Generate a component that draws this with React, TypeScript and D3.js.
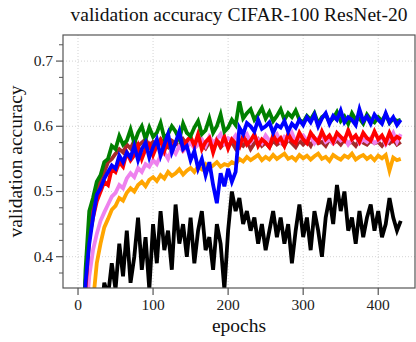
import React from "react";
import * as d3 from "d3";

const TITLE = "validation accuracy CIFAR-100 ResNet-20";
const X_LABEL = "epochs";
const Y_LABEL = "validation accuracy";
const X_TICKS = [0, 100, 200, 300, 400];
const Y_TICKS = [0.4, 0.5, 0.6, 0.7];
const EPOCHS = d3.range(0, 431, 5);

const greenVals = [
  0.01, 0.22, 0.38, 0.47, 0.49, 0.515, 0.525, 0.545, 0.55, 0.57,
  0.565, 0.585, 0.572, 0.578, 0.595, 0.574, 0.59, 0.6, 0.58, 0.598,
  0.584, 0.59, 0.605, 0.582, 0.588, 0.6, 0.592, 0.58, 0.604, 0.59,
  0.585, 0.598, 0.608, 0.588, 0.594, 0.612, 0.59, 0.6, 0.618, 0.592,
  0.598, 0.61, 0.602, 0.638, 0.612, 0.62, 0.626, 0.61, 0.618, 0.628,
  0.612, 0.622, 0.608, 0.616, 0.626, 0.61, 0.62, 0.614, 0.624, 0.61,
  0.606, 0.616, 0.61, 0.62, 0.604, 0.614, 0.618, 0.606, 0.612, 0.622,
  0.608, 0.615, 0.604, 0.62, 0.61, 0.612, 0.604, 0.618, 0.61, 0.606,
  0.614, 0.608, 0.618, 0.605, 0.612, 0.608, 0.61,
];
const blueVals = [
  0.01, 0.18, 0.36, 0.42, 0.46, 0.495, 0.505, 0.52, 0.53, 0.54,
  0.535, 0.555, 0.545, 0.56, 0.552, 0.57, 0.548, 0.565, 0.575, 0.552,
  0.568, 0.58, 0.555, 0.572, 0.588, 0.56, 0.575, 0.592, 0.565, 0.57,
  0.548, 0.562, 0.535, 0.55, 0.525, 0.545, 0.51, 0.482, 0.528, 0.508,
  0.535, 0.515, 0.53, 0.598, 0.588, 0.605, 0.6, 0.592, 0.61, 0.596,
  0.6, 0.606, 0.59, 0.602, 0.598, 0.608, 0.592, 0.604, 0.598, 0.61,
  0.602, 0.614, 0.606, 0.618, 0.6, 0.612, 0.62, 0.604, 0.616, 0.61,
  0.624, 0.606, 0.614, 0.61, 0.602, 0.626, 0.608, 0.615, 0.604, 0.618,
  0.61, 0.604, 0.62, 0.606, 0.614, 0.602, 0.61,
];
const redVals = [
  0.01, 0.2, 0.35, 0.43, 0.46, 0.485, 0.5, 0.515, 0.51, 0.535,
  0.53, 0.545, 0.538, 0.56, 0.548, 0.556, 0.57, 0.55, 0.565, 0.572,
  0.556, 0.57, 0.578, 0.562, 0.58, 0.568, 0.575, 0.586, 0.566, 0.578,
  0.584, 0.57, 0.588, 0.565, 0.576, 0.582, 0.56, 0.578, 0.57, 0.584,
  0.566, 0.58, 0.574, 0.568, 0.585, 0.572, 0.578, 0.588, 0.57, 0.58,
  0.575, 0.568, 0.586, 0.576, 0.582, 0.57, 0.588, 0.578, 0.574, 0.59,
  0.58, 0.574, 0.59, 0.582, 0.576, 0.592, 0.58, 0.586, 0.576, 0.59,
  0.584, 0.578, 0.594, 0.58, 0.586, 0.576, 0.59, 0.582, 0.578, 0.592,
  0.58, 0.586, 0.575, 0.59, 0.578, 0.584, 0.58,
];
const violetVals = [
  0.01, 0.12, 0.30, 0.37, 0.41, 0.435, 0.455, 0.468, 0.48, 0.492,
  0.498, 0.51, 0.505, 0.52, 0.528, 0.522, 0.536, 0.53, 0.542, 0.538,
  0.548, 0.542, 0.555, 0.56, 0.55, 0.565, 0.558, 0.57, 0.562, 0.568,
  0.575, 0.566, 0.572, 0.58, 0.57, 0.584, 0.575, 0.58, 0.588, 0.574,
  0.582, 0.578, 0.586, 0.574, 0.582, 0.588, 0.576, 0.584, 0.58, 0.574,
  0.586, 0.578, 0.582, 0.588, 0.576, 0.584, 0.58, 0.59, 0.576, 0.582,
  0.586, 0.578, 0.584, 0.574, 0.582, 0.586, 0.576, 0.58, 0.574, 0.584,
  0.578, 0.582, 0.572, 0.58, 0.585, 0.574, 0.58, 0.576, 0.582, 0.574,
  0.578, 0.584, 0.572, 0.58, 0.59, 0.576, 0.588,
];
const brownVals = [
  0.01, 0.2, 0.36, 0.44, 0.48, 0.5, 0.52, 0.53, 0.545, 0.55,
  0.558, 0.565, 0.56, 0.572, 0.566, 0.578, 0.57, 0.575, 0.58, 0.57,
  0.576, 0.57, 0.58, 0.572, 0.568, 0.578, 0.574, 0.57, 0.58, 0.572,
  0.576, 0.568, 0.578, 0.572, 0.566, 0.576, 0.57, 0.58, 0.568, 0.574,
  0.57, 0.576, 0.566, 0.574, 0.57, 0.578, 0.565, 0.574, 0.58, 0.57,
  0.575, 0.568, 0.578, 0.572, 0.576, 0.57, 0.58, 0.574, 0.568, 0.578,
  0.572, 0.578, 0.57, 0.582, 0.574, 0.576, 0.57, 0.58, 0.574, 0.578,
  0.572, 0.58, 0.574, 0.576, 0.57, 0.58, 0.575, 0.572, 0.578, 0.574,
  0.576, 0.57, 0.578, 0.574, 0.58, 0.572, 0.576,
];
const orangeVals = [
  0.01, 0.08, 0.18, 0.27, 0.33, 0.39, 0.42, 0.445, 0.458, 0.472,
  0.478, 0.49, 0.486, 0.498, 0.505, 0.5, 0.51, 0.515, 0.508, 0.518,
  0.522, 0.516, 0.525, 0.52, 0.53, 0.524, 0.528, 0.534, 0.526, 0.532,
  0.536, 0.53, 0.538, 0.534, 0.542, 0.536, 0.54, 0.545, 0.538, 0.542,
  0.54, 0.545, 0.542, 0.55, 0.546, 0.553, 0.548, 0.552, 0.556, 0.548,
  0.553, 0.549, 0.556, 0.55, 0.554, 0.558, 0.55, 0.553, 0.548, 0.556,
  0.551, 0.555, 0.549, 0.554, 0.558, 0.55, 0.553, 0.547, 0.556, 0.552,
  0.549, 0.555, 0.552, 0.558, 0.549, 0.553, 0.556, 0.55, 0.554, 0.548,
  0.555, 0.551, 0.556, 0.532, 0.552, 0.548, 0.55,
];
const blackVals = [
  0.01, 0.05, 0.10, 0.15, 0.20, 0.25, 0.30, 0.36, 0.34, 0.39,
  0.35, 0.42, 0.37, 0.44, 0.36, 0.40, 0.46, 0.38, 0.43, 0.35,
  0.45, 0.39, 0.47, 0.41, 0.44, 0.38, 0.48, 0.42, 0.45, 0.40,
  0.46, 0.39, 0.44, 0.47, 0.41, 0.43, 0.38, 0.45, 0.42, 0.35,
  0.44, 0.50, 0.47, 0.49, 0.45, 0.47, 0.44, 0.46, 0.42, 0.45,
  0.41, 0.44, 0.47, 0.43, 0.46, 0.42, 0.45, 0.39, 0.44, 0.48,
  0.43, 0.46, 0.41, 0.47, 0.44, 0.40, 0.46, 0.49, 0.45, 0.51,
  0.47, 0.50, 0.44, 0.46, 0.42, 0.47, 0.43, 0.46, 0.48, 0.44,
  0.47, 0.43, 0.45, 0.49, 0.46, 0.44, 0.455,
];

const SERIES = [
  { name: "black", color: "#000000", values: blackVals },
  { name: "brown", color: "#a52a2a", values: brownVals },
  { name: "violet", color: "#ee82ee", values: violetVals },
  { name: "red", color: "#ff0000", values: redVals },
  { name: "orange", color: "#ffa500", values: orangeVals },
  { name: "green", color: "#008000", values: greenVals },
  { name: "blue", color: "#0000ff", values: blueVals },
];

const W = 416;
const H = 342;
const L = 63, R = 415, T = 35, B = 288;
const FONT = "Liberation Serif, DejaVu Serif, Times New Roman, serif";

export default function App() {
  const x = d3.scaleLinear().domain([-20, 449]).range([L, R]);
  const y = d3.scaleLinear().domain([0.352, 0.74]).range([B, T]);
  const minorY = d3.range(0.375, 0.74, 0.025).filter(
    (v) => !Y_TICKS.some((t) => Math.abs(t - v) < 1e-6)
  );
  const line = d3
    .line<number>()
    .x((_, i) => x(EPOCHS[i]))
    .y((d) => y(d));
  const ts = { fontFamily: FONT };

  return (
    <svg
      width={W}
      height={H}
      style={{ position: "absolute", left: 0, top: 0, background: "#fff" }}
    >
      <defs>
        <clipPath id="plotclip">
          <rect x={L} y={T} width={R - L} height={B - T} />
        </clipPath>
      </defs>
      <rect x={0} y={0} width={W} height={H} fill="#fff" />
      {X_TICKS.map((t) => (
        <line key={"gx" + t} x1={x(t)} x2={x(t)} y1={T} y2={B}
          stroke="#c8c8c8" strokeWidth={0.8} strokeDasharray="1,2" />
      ))}
      {Y_TICKS.map((t) => (
        <line key={"gy" + t} x1={L} x2={R} y1={y(t)} y2={y(t)}
          stroke="#c8c8c8" strokeWidth={0.8} strokeDasharray="1,2" />
      ))}
      <g clipPath="url(#plotclip)">
        {SERIES.map((s) => (
          <path key={s.name} d={line(s.values) || ""} fill="none"
            stroke={s.color} strokeWidth={3.8} strokeLinejoin="miter" />
        ))}
      </g>
      <rect x={L} y={T} width={R - L} height={B - T} fill="none" stroke="#555" strokeWidth={1.2} />
      {Y_TICKS.map((t) => (
        <g key={"yt" + t}>
          <line x1={L - 7} x2={L} y1={y(t)} y2={y(t)} stroke="#555" strokeWidth={1.2} />
          <text x={L - 10} y={y(t) + 5} textAnchor="end" fontSize={15.5} fill="#222" style={ts}>
            {t.toFixed(1)}
          </text>
        </g>
      ))}
      {minorY.map((t) => (
        <line key={"my" + t} x1={L - 4} x2={L} y1={y(t)} y2={y(t)} stroke="#555" strokeWidth={1} />
      ))}
      {X_TICKS.map((t) => (
        <g key={"xt" + t}>
          <line x1={x(t)} x2={x(t)} y1={B} y2={B + 7} stroke="#555" strokeWidth={1.2} />
          <text x={x(t)} y={310} textAnchor="middle" fontSize={15.5} fill="#222" style={ts}>
            {t}
          </text>
        </g>
      ))}
      <text x={(L + R) / 2} y={21} textAnchor="middle" fontSize={19.5} fill="#111" style={ts}>
        {TITLE}
      </text>
      <text x={(L + R) / 2} y={332} textAnchor="middle" fontSize={19.5} fill="#111" style={ts}>
        {X_LABEL}
      </text>
      <text transform={`translate(22, ${(T + B) / 2}) rotate(-90)`} textAnchor="middle"
        fontSize={19.5} fill="#111" style={ts}>
        {Y_LABEL}
      </text>
    </svg>
  );
}
